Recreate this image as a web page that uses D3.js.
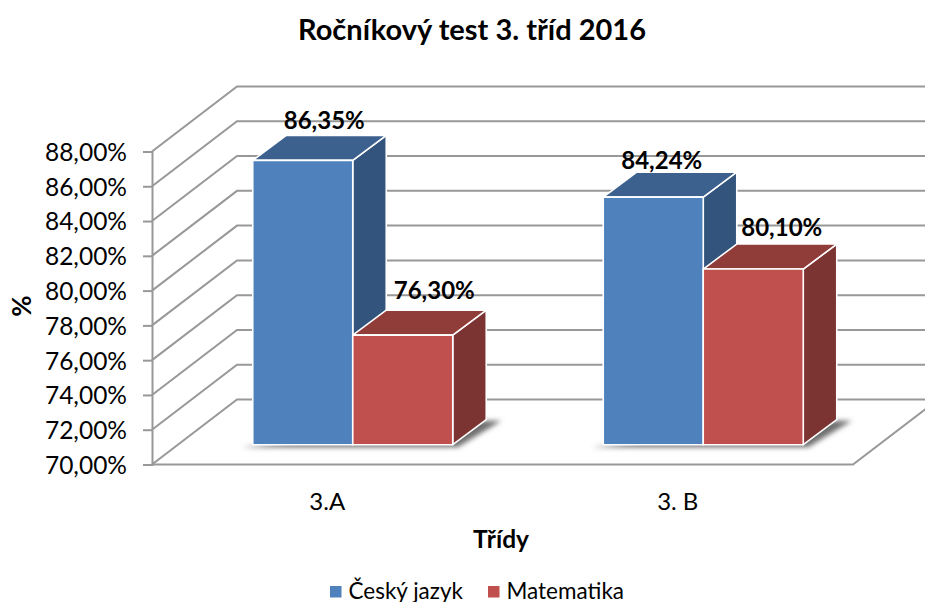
<!DOCTYPE html>
<html>
<head>
<meta charset="utf-8">
<script src="https://cdn.jsdelivr.net/npm/d3@7"></script>
<style>
  html, body { margin: 0; padding: 0; background: #fff; overflow: hidden; }
  text { font-family: Lato, "Open Sans", sans-serif; fill: #000; }
</style>
</head>
<body>
<div id="chart"></div>
<script>
const categories = ['3.A', '3. B'];
const seriesNames = ['Český jazyk', 'Matematika'];
const ceskyJazyk = [86.35, 84.24];
const matematika = [76.30, 80.10];
const seriesValues = [ceskyJazyk, matematika];
const yTicks = [70, 72, 74, 76, 78, 80, 82, 84, 86, 88];

const width = 925, height = 602;

const colors = [
  { front: '#4f81bd', top: '#3c618f', side: '#33547c' },
  { front: '#c0504d', top: '#903c39', side: '#7c3432' }
];

// the labels were moved by hand in the original, so each has its own nudge
const labelNudge = [
  [{ dx: 21.5, dy: -31 }, { dx: 31.5, dy: -36.5 }],
  [{ dx: 8.5, dy: -28 }, { dx: 28.5, dy: -33.5 }]
];

//3d projection of the box
const wallDepth = { x: 85, y: -65 };
const barDepth = { x: 33.5, y: -25 };
const floorGap = { x: 25.5, y: -19.8 };

const svg = d3.select('#chart').append('svg')
  .attr('width', width)
  .attr('height', height)
  .style('display', 'block');

const defs = svg.append('defs');
defs.append('filter').attr('id', 'blur')
  .attr('x', '-20%').attr('y', '-40%').attr('width', '140%').attr('height', '180%')
  .append('feGaussianBlur').attr('stdDeviation', 2.5);

//scales
const x = d3.scaleBand().domain(categories).range([152, 853]);
const y = d3.scaleLinear().domain([70, 88]).range([464.5, 151.5]);
const inner = d3.scaleBand().domain(seriesNames).range([0, 200]);

const csLocale = d3.formatLocale({ decimal: ',', thousands: ' ', grouping: [3], currency: ['', ' Kč'] });
const fmt = v => csLocale.format('.2f')(v) + '%';

//title
svg.append('text')
  .attr('x', 472).attr('y', 40)
  .attr('text-anchor', 'middle')
  .attr('font-size', 29).attr('font-weight', 700)
  .text('Ročníkový test 3. tříd 2016');

//walls
const grid = svg.append('g')
  .attr('fill', 'none')
  .attr('stroke', '#989898')
  .attr('stroke-width', 2);

yTicks.forEach(t => {
  const py = y(t);
  const path = d3.path();
  path.moveTo(152, py);
  path.lineTo(152 + wallDepth.x, py + wallDepth.y);
  path.lineTo(938, py + wallDepth.y);
  grid.append('path').attr('d', path.toString());
});

//floor
const floor = d3.path();
floor.moveTo(152, y(70));
floor.lineTo(853, y(70));
floor.lineTo(853 + wallDepth.x, y(70) + wallDepth.y);
grid.append('path').attr('d', floor.toString());

//y axis
const yAxis = d3.axisLeft(y).tickValues(yTicks).tickFormat(fmt).tickSize(9).tickPadding(16);
const yG = svg.append('g')
  .attr('transform', 'translate(152,0)')
  .call(yAxis);
yG.select('.domain').attr('stroke', '#989898').attr('stroke-width', 2);
yG.selectAll('.tick line').attr('stroke', '#989898').attr('stroke-width', 2);
yG.selectAll('.tick text')
  .attr('font-size', 24.5)
  .attr('y', 1)
  .style('font-family', 'Lato, sans-serif');

//bars
const baseY = y(70) + floorGap.y;
const top3d = v => y(v) + floorGap.y;

const poly = pts => pts.map(p => p.join(',')).join(' ');

categories.forEach((cat, c) => {
  const left = x(cat) + x.bandwidth() / 2 - 100 + floorGap.x;
  const g = svg.append('g').attr('class', 'category');

  //soft shadow on the floor
  g.append('polygon')
    .attr('points', poly([
      [left - 11, baseY + 2.5],
      [left + 205, baseY + 2.5],
      [left + 200 + barDepth.x + 15, baseY + barDepth.y + 1],
      [left + 200, baseY + barDepth.y + 1]
    ]))
    .attr('fill', '#707070')
    .attr('filter', 'url(#blur)');

  seriesNames.forEach((name, s) => {
    const v = seriesValues[s][c];
    const x0 = left + inner(name);
    const x1 = x0 + inner.bandwidth();
    const yt = top3d(v);

    const bar = g.append('g')
      .attr('stroke', '#fff')
      .attr('stroke-width', 1.6)
      .attr('stroke-linejoin', 'round');

    bar.append('polygon')
      .attr('points', poly([
        [x1, yt], [x1 + barDepth.x, yt + barDepth.y],
        [x1 + barDepth.x, baseY + barDepth.y], [x1, baseY]
      ]))
      .attr('fill', colors[s].side);

    bar.append('polygon')
      .attr('points', poly([
        [x0, yt], [x0 + barDepth.x, yt + barDepth.y],
        [x1 + barDepth.x, yt + barDepth.y], [x1, yt]
      ]))
      .attr('fill', colors[s].top);

    bar.append('rect')
      .attr('x', x0).attr('y', yt)
      .attr('width', x1 - x0).attr('height', baseY - yt)
      .attr('fill', colors[s].front);
  });
});

//data labels go on top of everything
categories.forEach((cat, c) => {
  const left = x(cat) + x.bandwidth() / 2 - 100 + floorGap.x;
  seriesNames.forEach((name, s) => {
    const v = seriesValues[s][c];
    svg.append('text')
      .attr('x', left + inner(name) + inner.bandwidth() / 2 + labelNudge[c][s].dx)
      .attr('y', top3d(v) + labelNudge[c][s].dy)
      .attr('text-anchor', 'middle')
      .attr('font-size', 24).attr('font-weight', 700)
      .text(fmt(v));
  });
});

//category labels
svg.selectAll('.cat-label').data(categories).enter().append('text')
  .attr('class', 'cat-label')
  .attr('x', d => x(d) + x.bandwidth() / 2)
  .attr('y', 510)
  .attr('text-anchor', 'middle')
  .attr('font-size', 24)
  .text(d => d);

//axis titles
svg.append('text')
  .attr('x', 501).attr('y', 548)
  .attr('text-anchor', 'middle')
  .attr('font-size', 24.5).attr('font-weight', 700)
  .text('Třídy');

svg.append('text')
  .attr('transform', 'translate(31,306) rotate(-90)')
  .attr('text-anchor', 'middle')
  .attr('font-size', 26).attr('font-weight', 700)
  .text('%');

//legend
const legendX = [330, 488];
seriesNames.forEach((name, i) => {
  svg.append('rect')
    .attr('x', legendX[i]).attr('y', 586)
    .attr('width', 11.5).attr('height', 11.5)
    .attr('fill', colors[i].front);
  svg.append('text')
    .attr('x', legendX[i] + 18.5).attr('y', 598.5)
    .attr('font-size', 22.5)
    .text(name);
});
</script>
</body>
</html>
